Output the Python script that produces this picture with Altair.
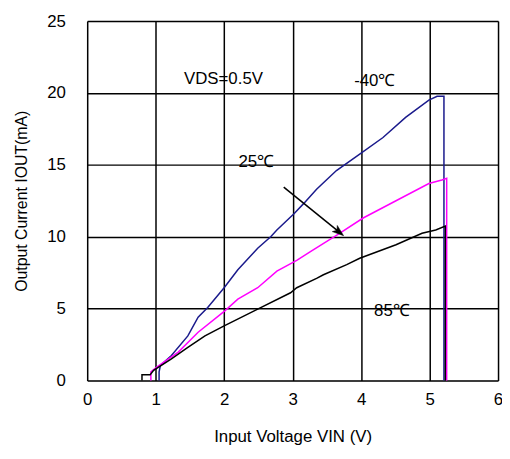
import altair as alt
import pandas as pd

# -40 C curve (blue)
blue_x = [1.05, 1.05, 1.07, 1.23, 1.47, 1.62, 1.76, 2.0, 2.2, 2.49, 2.68, 2.77, 3.02, 3.16, 3.35, 3.64, 3.98, 4.32, 4.65, 4.99, 5.11, 5.21, 5.21]
blue_y = [0, 0.6, 1.05, 1.74, 3.1, 4.4, 5.07, 6.45, 7.7, 9.2, 10.0, 10.47, 11.6, 12.3, 13.3, 14.6, 15.75, 16.9, 18.3, 19.5, 19.77, 19.77, 0]
# 25 C curve (magenta)
pink_x = [0.93, 0.93, 1.02, 1.33, 1.62, 2.01, 2.2, 2.49, 2.77, 3.06, 3.26, 3.54, 3.64, 4.03, 4.51, 4.99, 5.18, 5.25, 5.25]
pink_y = [0, 0.6, 0.94, 1.97, 3.35, 4.84, 5.65, 6.45, 7.6, 8.35, 8.97, 9.8, 10.1, 11.3, 12.5, 13.7, 13.95, 14.07, 0]
# 85 C curve (black)
black_x = [0.8, 0.8, 0.92, 0.97, 1.23, 1.47, 1.72, 2.0, 2.49, 2.97, 3.06, 3.35, 3.45, 3.79, 3.98, 4.51, 4.89, 5.09, 5.23, 5.23]
black_y = [0, 0.4, 0.4, 0.7, 1.5, 2.3, 3.1, 3.8, 4.96, 6.1, 6.45, 7.1, 7.35, 8.06, 8.5, 9.44, 10.24, 10.47, 10.74, 0]

series_names = ["-40", "25", "85"]
series_colors = ["#1a1a8c", "#ff00ff", "#000000"]

x_ticks = [0, 1, 2, 3, 4, 5, 6]
y_ticks = [0, 5, 10, 15, 20, 25]

label_text = ["VDS=0.5V", "-40℃", "25℃", "85℃"]
label_x = [1.99, 4.2, 2.47, 4.45]
label_y = [21.0, 20.8, 15.17, 4.84]

arrow_x = [2.87, 3.70]
arrow_y = [13.45, 10.25]
head_x = [3.68]
head_y = [10.32]

rows = []
for name, xs, ys in zip(series_names, [blue_x, pink_x, black_x], [blue_y, pink_y, black_y]):
    for i, (a, b) in enumerate(zip(xs, ys)):
        rows.append({"series": name, "x": a, "y": b, "i": i})
df = pd.DataFrame(rows)

xs = alt.Scale(domain=[0, 6], nice=False)
ys = alt.Scale(domain=[0, 25], nice=False)

FONT = "Liberation Sans"

lines = alt.Chart(df).mark_line(strokeWidth=1.5).encode(
    x=alt.X("x:Q", scale=xs,
            axis=alt.Axis(values=x_ticks, format="d", title="Input Voltage VIN (V)", grid=True,
                          gridColor="black", gridWidth=1.5, gridOpacity=1, domain=False,
                          ticks=False, labelPadding=11, titlePadding=22, labelFontSize=17,
                          titleFontSize=17, titleFontWeight="normal", labelFont=FONT,
                          titleFont=FONT, labelColor="black", titleColor="black",
                          labelFlush=False)),
    y=alt.Y("y:Q", scale=ys,
            axis=alt.Axis(values=y_ticks, format="d", title="Output Current IOUT(mA)", grid=True,
                          gridColor="black", gridWidth=1.5, gridOpacity=1, domain=False,
                          ticks=False, labelPadding=22, titlePadding=17, labelFontSize=17,
                          titleFontSize=16, titleFontWeight="normal", labelFont=FONT,
                          titleFont=FONT, labelColor="black", titleColor="black",
                          labelFlush=False)),
    color=alt.Color("series:N", scale=alt.Scale(domain=series_names, range=series_colors), legend=None),
    order="i:Q",
)

labels = alt.Chart(pd.DataFrame({"t": label_text, "x": label_x, "y": label_y})).mark_text(
    font=FONT, fontSize=17, color="black", align="center", baseline="middle"
).encode(x=alt.X("x:Q", scale=xs), y=alt.Y("y:Q", scale=ys), text="t:N")

arrow = alt.Chart(pd.DataFrame({"x": arrow_x, "y": arrow_y})).mark_line(
    color="black", strokeWidth=1.5
).encode(x=alt.X("x:Q", scale=xs), y=alt.Y("y:Q", scale=ys))

head = alt.Chart(pd.DataFrame({"x": head_x, "y": head_y})).mark_point(
    shape="M -1 -0.7 L 1 0 L -1 0.7 L -0.5 0 Z", filled=True, fill="black",
    stroke="black", strokeWidth=0.5, opacity=1, size=130, angle=39
).encode(x=alt.X("x:Q", scale=xs), y=alt.Y("y:Q", scale=ys))

chart = alt.layer(lines, arrow, head, labels).properties(
    width=415, height=363,
    autosize=alt.AutoSizeParams(type="none"),
    padding={"left": 80, "top": 11, "right": 4, "bottom": 63},
).configure_view(stroke="black", strokeWidth=2).configure(background="white")

chart.save("out.html", embed_options={"renderer": "svg", "actions": False})
